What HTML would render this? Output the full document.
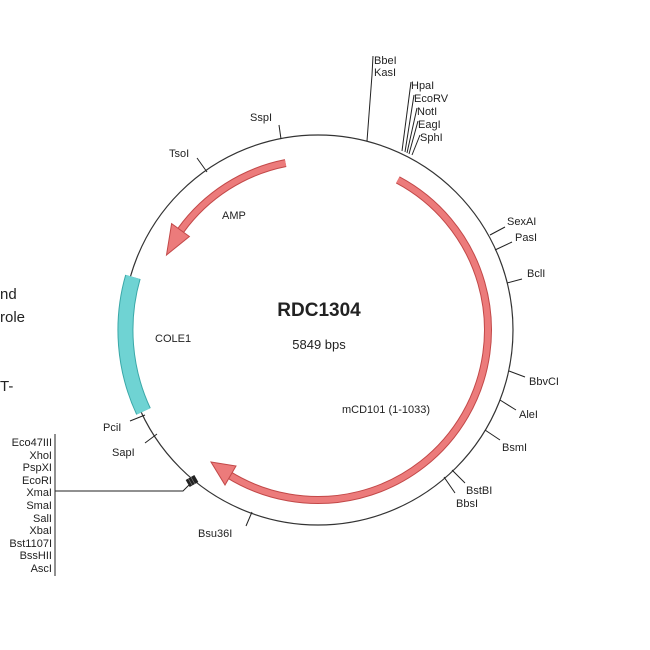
<!DOCTYPE html>
<html><head><meta charset="utf-8"><style>
html,body{margin:0;padding:0;background:#fff;}
svg{display:block;}
text{font-family:"Liberation Sans",Arial,sans-serif;fill:#222;}
.s{font-size:11px;}
</style></head><body>
<svg width="650" height="650" viewBox="0 0 650 650" xmlns="http://www.w3.org/2000/svg">
<rect width="650" height="650" fill="#fff"/>
<text x="0" y="299" style="font-size:15px">nd</text>
<text x="0" y="322" style="font-size:15px">role</text>
<text x="0" y="391" style="font-size:15px">T-</text>

<circle cx="318" cy="330" r="195" fill="none" stroke="#333" stroke-width="1.2"/>

<!-- cyan COLE1 -->
<path d="M143.5 411.4 A192.5 192.5 0 0 1 132.9 276.9" fill="none" stroke="#3aa8a8" stroke-width="16"/>
<path d="M143.5 411.4 A192.5 192.5 0 0 1 132.9 276.9" fill="none" stroke="#6fd3d3" stroke-width="14"/>

<!-- mCD101 -->
<path d="M397.8 179.9 A170 170 0 0 1 465.2 415 A170 170 0 0 1 227.9 474.2" fill="none" stroke="#c24848" stroke-width="8"/>
<path d="M397.8 179.9 A170 170 0 0 1 465.2 415 A170 170 0 0 1 227.9 474.2" fill="none" stroke="#ec7b7b" stroke-width="6"/>
<polygon points="211,462 236,466 225,485" fill="#ec7b7b" stroke="#c24848" stroke-width="1"/>

<!-- AMP -->
<path d="M285.6 163.1 A170 170 0 0 0 181 230" fill="none" stroke="#c24848" stroke-width="8"/>
<path d="M285.6 163.1 A170 170 0 0 0 181 230" fill="none" stroke="#ec7b7b" stroke-width="6"/>
<polygon points="166.5,255 189.4,236.5 171.6,223.6" fill="#ec7b7b" stroke="#c24848" stroke-width="1"/>

<!-- center labels -->
<text x="319" y="316" text-anchor="middle" style="font-size:19px;font-weight:bold">RDC1304</text>
<text x="319" y="349" text-anchor="middle" style="font-size:13px">5849 bps</text>
<text x="155" y="342" class="s">COLE1</text>
<text x="222" y="219" class="s">AMP</text>
<text x="342" y="413" class="s">mCD101 (1-1033)</text>

<g stroke="#222" stroke-width="1" fill="none">
<line x1="490" y1="235" x2="505" y2="227"/>
<line x1="495" y1="250" x2="512" y2="242"/>
<line x1="507" y1="283" x2="522" y2="279"/>
<line x1="509" y1="371" x2="525" y2="377"/>
<line x1="500" y1="400" x2="516" y2="410"/>
<line x1="485" y1="430" x2="500" y2="440"/>
<line x1="452" y1="470" x2="465" y2="483"/>
<line x1="444" y1="477" x2="455" y2="493"/>
<line x1="252" y1="512" x2="246" y2="526"/>
<line x1="157" y1="434" x2="145" y2="443"/>
<line x1="145" y1="415" x2="130" y2="421"/>
<line x1="207" y1="172" x2="197" y2="158"/>
<line x1="281" y1="139" x2="279" y2="125"/>
<polyline points="367,141 372,75 373,56"/>
<polyline points="402,151 411,82"/>
<polyline points="405,152 414,95"/>
<polyline points="407,153 417,108"/>
<polyline points="409,154 418,121"/>
<polyline points="412,155 420,135"/>
<line x1="55" y1="434" x2="55" y2="576"/>
<polyline points="55,491 183,491 190,484"/>
</g>
<g transform="translate(192,481) rotate(-30)">
<rect x="-5" y="-4" width="10" height="8" fill="#222"/>
<line x1="-2" y1="-4" x2="-2" y2="4" stroke="#888" stroke-width="0.6"/>
<line x1="1" y1="-4" x2="1" y2="4" stroke="#888" stroke-width="0.6"/>
</g>

<g class="s">
<text x="507" y="225" class="s">SexAI</text>
<text x="515" y="241" class="s">PasI</text>
<text x="527" y="277" class="s">BclI</text>
<text x="529" y="385" class="s">BbvCI</text>
<text x="519" y="418" class="s">AleI</text>
<text x="502" y="451" class="s">BsmI</text>
<text x="466" y="494" class="s">BstBI</text>
<text x="456" y="507" class="s">BbsI</text>
<text x="198" y="537" class="s">Bsu36I</text>
<text x="112" y="456" class="s">SapI</text>
<text x="103" y="431" class="s">PciI</text>
<text x="169" y="157" class="s">TsoI</text>
<text x="250" y="121" class="s">SspI</text>
<text x="374" y="64" class="s">BbeI</text>
<text x="374" y="76" class="s">KasI</text>
<text x="411" y="89" class="s">HpaI</text>
<text x="414" y="102" class="s">EcoRV</text>
<text x="417" y="115" class="s">NotI</text>
<text x="418" y="128" class="s">EagI</text>
<text x="420" y="141" class="s">SphI</text>
</g>
<g class="s" text-anchor="end">
<text x="52" y="446" class="s">Eco47III</text>
<text x="52" y="459" class="s">XhoI</text>
<text x="52" y="471" class="s">PspXI</text>
<text x="52" y="484" class="s">EcoRI</text>
<text x="52" y="496" class="s">XmaI</text>
<text x="52" y="509" class="s">SmaI</text>
<text x="52" y="522" class="s">SalI</text>
<text x="52" y="534" class="s">XbaI</text>
<text x="52" y="547" class="s">Bst1107I</text>
<text x="52" y="559" class="s">BssHII</text>
<text x="52" y="572" class="s">AscI</text>
</g>
</svg>
</body></html>
